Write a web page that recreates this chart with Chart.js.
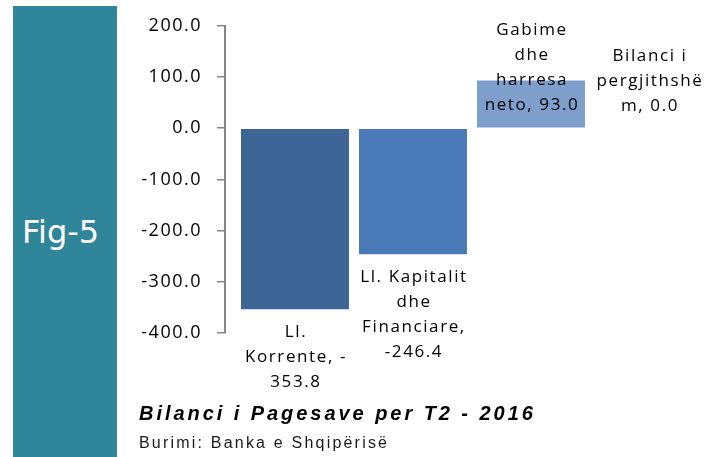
<!DOCTYPE html>
<html><head><meta charset="utf-8">
<script src="https://cdn.jsdelivr.net/npm/chart.js@4"></script>
<style>
html,body{margin:0;padding:0;background:#fff;width:715px;height:457px;overflow:hidden;}
#panel{position:absolute;left:13px;top:6px;width:104px;height:451px;background:#2F8599;}
#fig{position:absolute;left:22px;top:214px;font:32px "DejaVu Sans";color:#fff;line-height:36px;white-space:nowrap;}
#wrap{position:absolute;left:120px;top:0;width:595px;height:457px;}
#title{position:absolute;left:139px;top:402px;font:italic bold 20px "Liberation Sans";letter-spacing:2.95px;line-height:22px;color:#000;white-space:nowrap;}
#source{position:absolute;left:139px;top:433px;font:16px "Liberation Sans";letter-spacing:2.2px;line-height:19px;color:#1a1a1a;white-space:nowrap;}
</style></head>
<body>
<div id="panel"></div>
<div id="fig">Fig-5</div>
<div id="wrap"><canvas id="c" width="595" height="457"></canvas></div>
<div id="title">Bilanci i Pagesave per T2 - 2016</div>
<div id="source">Burimi: Banka e Shqipërisë</div>
<script>
const categories = ["Ll. Korrente", "Ll. Kapitalit dhe Financiare", "Gabime dhe harresa neto", "Bilanci i pergjithshëm"];
const values = [-353.8, -246.4, 93.0, 0.0];
const labelLines = [
  ["Ll.", "Korrente, -", "353.8"],
  ["Ll. Kapitalit", "dhe", "Financiare,", "-246.4"],
  ["Gabime", "dhe", "harresa", "neto, 93.0"],
  ["Bilanci i", "pergjithshë", "m, 0.0"]
];
const yTicks = [200, 100, 0, -100, -200, -300, -400];
const barColors = ["#3D6596", "#4A79B7", "#7E9ECC", "#A9BFDF"];

const labelPlugin = {
  id: 'barLabels',
  beforeDraw(chart){ chart.ctx.letterSpacing = '1.5px'; },
  afterDatasetsDraw(chart){
    const ctx = chart.ctx;
    const meta = chart.getDatasetMeta(0);
    ctx.save();
    ctx.font = '17px "Open Sans"';
    ctx.fillStyle = '#000';
    ctx.textAlign = 'center';
    ctx.textBaseline = 'middle';
    ctx.letterSpacing = '1.6px';
    const lh = 25;
    meta.data.forEach((bar, i) => {
      const lines = labelLines[i];
      let y0;
      if (values[i] < 0) y0 = bar.y + 23;
      else y0 = bar.base - 22 - (lines.length - 1) * lh;
      lines.forEach((t, k) => ctx.fillText(t, bar.x + 1, y0 + k * lh));
    });
    ctx.restore();
  }
};

new Chart(document.getElementById('c'), {
  type: 'bar',
  data: {
    labels: categories,
    datasets: [{
      data: values.map((v, i) => ({x: i, y: v})),
      backgroundColor: barColors,
      borderWidth: 0,
      borderSkipped: false,
      categoryPercentage: 1,
      barPercentage: 0.915
    }]
  },
  options: {
    responsive: false,
    animation: false,
    devicePixelRatio: 1,
    layout: {padding: {top: 24, bottom: 124, left: 0, right: 7}},
    plugins: {legend: {display: false}, tooltip: {enabled: false}},
    scales: {
      x: {
        type: 'linear', display: false, min: -0.593, max: 3.5, offset: false,
        afterBuildTicks: s => { s.ticks = categories.map((c, i) => ({value: i})); }
      },
      y: {
        min: -400, max: 200,
        afterBuildTicks: s => { s.ticks = yTicks.map(v => ({value: v})); },
        afterFit: s => { s.width = 105; },
        ticks: {callback: v => Number(v).toFixed(1), font: {family: 'Open Sans', size: 18}, color: '#000', padding: 15},
        grid: {drawOnChartArea: false, drawTicks: true, tickLength: 8, color: '#868686', lineWidth: 1.5},
        border: {display: true, color: '#868686', width: 2}
      }
    }
  },
  plugins: [labelPlugin]
});
</script>
</body></html>
